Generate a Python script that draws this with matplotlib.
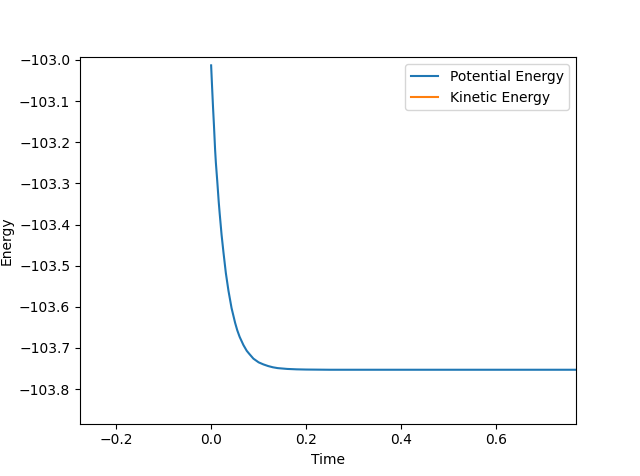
import matplotlib
matplotlib.use('Agg')
from matplotlib import pyplot as plt

# 读取的曲线数据
time = [0.0, 0.002, 0.004, 0.006, 0.0084, 0.010, 0.013, 0.016, 0.018, 0.022,
        0.026, 0.031, 0.0365, 0.043, 0.0505, 0.055, 0.060, 0.068, 0.075, 0.080,
        0.089, 0.100, 0.110, 0.120, 0.130, 0.140, 0.160, 0.180, 0.200, 0.25,
        0.4, 0.6, 0.8]
potential = [-103.013, -103.065, -103.115, -103.160, -103.219, -103.250, -103.296,
             -103.345, -103.373, -103.425, -103.468, -103.518, -103.561, -103.603,
             -103.639, -103.657, -103.673, -103.693, -103.707, -103.714,
             -103.726, -103.735, -103.740, -103.744, -103.747, -103.749,
             -103.751, -103.752, -103.7525, -103.753, -103.753, -103.753, -103.753]
kinetic_time = []
kinetic = []

fig = plt.figure(figsize=(6.4, 4.76), dpi=100)
plt.plot(time, potential, label='Potential Energy')
plt.plot(kinetic_time, kinetic, label='Kinetic Energy')
plt.xlabel('Time')
plt.ylabel('Energy')
plt.xlim(-0.276, 0.768)
plt.ylim(-103.884, -102.993)
plt.legend()
plt.savefig('out.png', dpi=100)
